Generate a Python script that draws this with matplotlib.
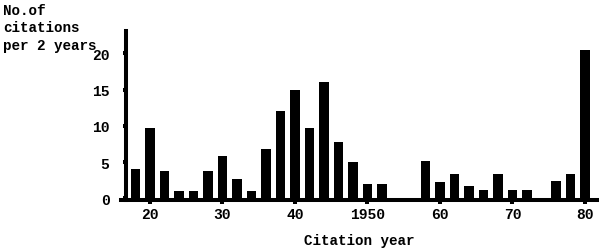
import matplotlib
matplotlib.use("Agg")
import matplotlib.pyplot as plt

years = [18, 20, 22, 24, 26, 28, 30, 32, 34, 36, 38, 40, 42, 44, 46, 48, 50, 52,
         54, 56, 58, 60, 62, 64, 66, 68, 70, 72, 74, 76, 78, 80]
citations = [4, 9.7, 3.8, 1, 1, 3.8, 5.8, 2.7, 1, 6.8, 12, 15, 9.7, 16, 7.8, 5, 1.9, 1.9,
             0, 0, 5.1, 2.2, 3.3, 1.7, 1.2, 3.3, 1.2, 1.2, 0, 2.4, 3.3, 20.5]
xticks = [20, 30, 40, 50, 60, 70, 80]
xticklabels = ["20", "30", "40", "1950", "60", "70", "80"]
yticks = [0, 5, 10, 15, 20]

FONT = "Liberation Mono"
plt.rcParams['font.family'] = [FONT, 'DejaVu Sans']
plt.rcParams['font.weight'] = 'bold'

fig = plt.figure(figsize=(5.99, 2.51), dpi=100)
ax = fig.add_axes([121/599, 50/251, 477/599, 169/251])

ax.bar(years, citations, width=1.3, color="black", zorder=1)

ax.set_xlim(16.0, 81.8)
ax.set_ylim(-0.25, 23.1)

for s in ["top", "right"]:
    ax.spines[s].set_visible(False)
lw = 2.9
ax.spines["left"].set_linewidth(lw)
ax.spines["bottom"].set_linewidth(lw)
ax.spines["left"].set_position(("data", 16.7))
ax.spines["left"].set_bounds(-0.25, 23.1)
ax.spines["left"].set_zorder(3)
ax.spines["bottom"].set_zorder(3)

ax.set_xticks(xticks)
ax.set_xticklabels(xticklabels)
ax.set_yticks(yticks)
ax.tick_params(axis="x", direction="out", length=3, width=2.9, pad=2, labelsize=10.5)
ax.tick_params(axis="y", direction="out", length=2.5, width=2.9, pad=9.5, labelsize=10.5)

ax.set_xlabel("Citation year", fontsize=10.3, fontweight="bold", labelpad=9)

fig.text(3/599, 1 - 4/251, "No.of\ncitations\nper 2 years", ha="left", va="top",
         fontsize=10.3, fontweight="bold", linespacing=1.3)

fig.savefig("out.png", dpi=100)
